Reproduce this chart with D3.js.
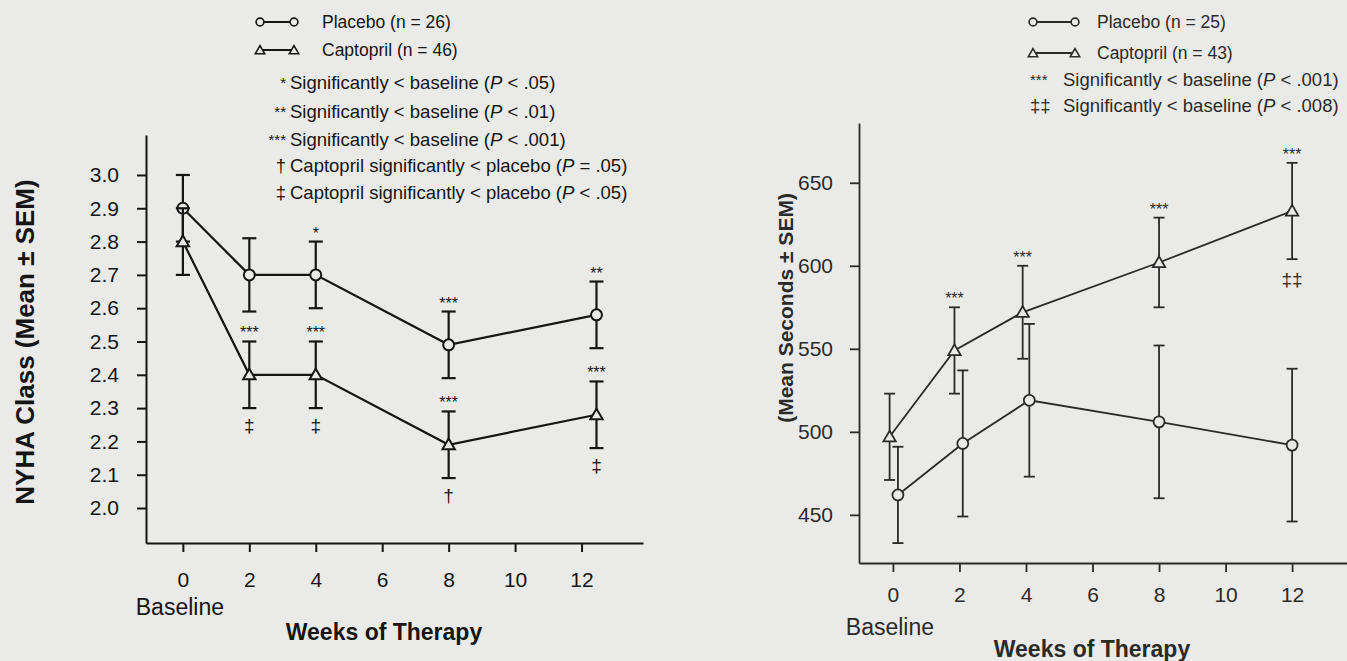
<!DOCTYPE html>
<html>
<head>
<meta charset="utf-8">
<script src="https://cdn.jsdelivr.net/npm/d3@7"></script>
<style>
  body { margin: 0; background: #eaeae8; }
  svg { display: block; font-family: "Liberation Sans", Arial, Helvetica, sans-serif; }
</style>
</head>
<body>
<svg id="chart" width="1347" height="661"></svg>
<script>
// ---- left panel: NYHA class ----
let nyhaWeeks = [0, 2, 4, 8, 12.45];          // week-12 points sit a bit right of the tick
let nyhaPlacebo = [2.9, 2.7, 2.7, 2.49, 2.58];
let nyhaPlaceboSem = [0.1, 0.11, 0.1, 0.1, 0.1];
let nyhaCaptopril = [2.8, 2.4, 2.4, 2.19, 2.28];
let nyhaCaptoprilSem = [0.1, 0.1, 0.1, 0.1, 0.1];
let nyhaPlaceboAbove = ["", "", "*", "***", "**"];
let nyhaCaptoprilAbove = ["", "***", "***", "***", "***"];
let nyhaCaptoprilBelow = ["", "\u2021", "\u2021", "\u2020", "\u2021"];
let nyhaTicks = [2.0, 2.1, 2.2, 2.3, 2.4, 2.5, 2.6, 2.7, 2.8, 2.9, 3.0];
let nyhaNotes = [
  ["*", "Significantly < baseline (", "P", " < .05)"],
  ["**", "Significantly < baseline (", "P", " < .01)"],
  ["***", "Significantly < baseline (", "P", " < .001)"],
  ["\u2020", "Captopril significantly < placebo (", "P", " = .05)"],
  ["\u2021", "Captopril significantly < placebo (", "P", " < .05)"]
];

// ---- right panel: exercise duration ----
let exPlaceboWeeks = [0.15, 2.1, 4.1, 8, 12];
let exPlacebo = [462, 493, 519, 506, 492];
let exPlaceboSem = [29, 44, 46, 46, 46];
let exCaptoprilWeeks = [-0.1, 1.85, 3.9, 8, 12];
let exCaptopril = [497, 549, 572, 602, 633];
let exCaptoprilSem = [26, 26, 28, 27, 29];
let exCaptoprilAbove = ["", "***", "***", "***", "***"];
let exCaptoprilBelow = ["", "", "", "", "\u2021\u2021"];
let exTicks = [450, 500, 550, 600, 650];
let exNotes = [
  ["***", "Significantly < baseline (", "P", " < .001)"],
  ["\u2021\u2021", "Significantly < baseline (", "P", " < .008)"]
];

let weekTicks = [0, 2, 4, 6, 8, 10, 12];
let bg = "#eaeae8";

let svg = d3.select("#chart");

function drawPanel(p) {
  let g = svg.append("g").attr("class", p.name);
  let ink = p.ink;

  let x = d3.scaleLinear().domain(p.xDomain).range(p.xRange);
  let y = d3.scaleLinear().domain(p.yDomain).range(p.yRange);

  // x axis
  let xAxis = d3.axisBottom(x)
    .tickValues(weekTicks)
    .tickSize(9)
    .tickSizeOuter(0)
    .tickPadding(p.xPad);
  let gx = g.append("g")
    .attr("transform", "translate(0," + p.yRange[0] + ")")
    .call(xAxis);
  gx.select(".domain").attr("stroke", ink).attr("stroke-width", p.axisW);
  gx.selectAll(".tick line").attr("stroke", ink).attr("stroke-width", p.axisW);
  gx.selectAll("text").attr("fill", ink).attr("font-size", 21).attr("font-family", null);

  // y axis
  let yAxis = d3.axisLeft(y)
    .tickValues(p.yTicks)
    .tickFormat(p.yFormat)
    .tickSize(9)
    .tickSizeOuter(0)
    .tickPadding(p.yPad);
  let gy = g.append("g")
    .attr("transform", "translate(" + p.xRange[0] + ",0)")
    .call(yAxis);
  gy.select(".domain").attr("stroke", ink).attr("stroke-width", p.axisW);
  gy.selectAll(".tick line").attr("stroke", ink).attr("stroke-width", p.axisW);
  gy.selectAll("text").attr("fill", ink).attr("font-size", 21).attr("font-family", null);

  // axis titles
  g.append("text")
    .attr("x", x(0) - 3).attr("y", p.baselineY)
    .attr("text-anchor", "middle").attr("font-size", 23).attr("fill", ink)
    .text("Baseline");
  g.append("text")
    .attr("x", p.xTitle[0]).attr("y", p.xTitle[1])
    .attr("text-anchor", "middle").attr("font-size", 23).attr("font-weight", "bold").attr("fill", ink)
    .text("Weeks of Therapy");
  g.append("text")
    .attr("transform", "translate(" + p.yTitle[0] + "," + p.yTitle[1] + ") rotate(-90)")
    .attr("text-anchor", "middle").attr("dominant-baseline", "central")
    .attr("font-size", p.yTitleSize).attr("font-weight", "bold").attr("fill", ink)
    .text(p.yTitleText);

  // series
  p.series.forEach(function (s) {
    let line = d3.line()
      .x(function (d, i) { return x(s.weeks[i]); })
      .y(function (d) { return y(d); });

    // error bars
    let eb = g.append("g").attr("stroke", ink).attr("stroke-width", p.lineW);
    s.values.forEach(function (v, i) {
      let cx = x(s.weeks[i]);
      let top = y(v + s.sem[i]);
      let bot = y(v - s.sem[i]);
      eb.append("line").attr("x1", cx).attr("x2", cx).attr("y1", top).attr("y2", bot);
      eb.append("line").attr("x1", cx - p.cap).attr("x2", cx + p.cap).attr("y1", top).attr("y2", top);
      eb.append("line").attr("x1", cx - p.cap).attr("x2", cx + p.cap).attr("y1", bot).attr("y2", bot);
    });

    g.append("path")
      .datum(s.values)
      .attr("d", line)
      .attr("fill", "none")
      .attr("stroke", ink)
      .attr("stroke-width", p.lineW);

    // markers
    let sym = s.shape === "circle" ? d3.symbolCircle : d3.symbolTriangle;
    g.selectAll(".m-" + s.key)
      .data(s.values)
      .enter().append("path")
      .attr("class", "m-" + s.key)
      .attr("d", d3.symbol().type(sym).size(s.shape === "circle" ? 95 : 66))
      .attr("transform", function (d, i) {
        let dy = s.shape === "circle" ? 0 : 1;
        return "translate(" + x(s.weeks[i]) + "," + (y(d) + dy) + ")";
      })
      .attr("fill", bg)
      .attr("stroke", ink)
      .attr("stroke-width", p.markW);

    // significance marks
    g.selectAll(".a-" + s.key)
      .data(s.above || [])
      .enter().append("text")
      .attr("x", function (d, i) { return x(s.weeks[i]); })
      .attr("y", function (d, i) { return y(s.values[i] + s.sem[i]) - 12 + 9; })
      .attr("text-anchor", "middle").attr("font-size", 16).attr("fill", ink)
      .text(function (d) { return d; });
    g.selectAll(".b-" + s.key)
      .data(s.below || [])
      .enter().append("text")
      .attr("x", function (d, i) { return x(s.weeks[i]); })
      .attr("y", function (d, i) { return y(s.values[i] - s.sem[i]) + p.belowOff + 6; })
      .attr("text-anchor", "middle").attr("font-size", 19).attr("fill", ink)
      .text(function (d) { return d; });
  });

  // legend
  let L = p.legend;
  let lg = g.append("g").attr("fill", ink);
  L.series.forEach(function (s, i) {
    let cy = L.rows[i];
    lg.append("line")
      .attr("x1", L.sym[0]).attr("x2", L.sym[1]).attr("y1", cy).attr("y2", cy)
      .attr("stroke", ink).attr("stroke-width", 1.8);
    [L.sym[0], L.sym[1]].forEach(function (sx) {
      lg.append("path")
        .attr("d", d3.symbol().type(s.shape === "circle" ? d3.symbolCircle : d3.symbolTriangle).size(s.shape === "circle" ? 48 : 38))
        .attr("transform", "translate(" + sx + "," + (cy + (s.shape === "circle" ? 0 : 1)) + ")")
        .attr("fill", bg).attr("stroke", ink).attr("stroke-width", 1.6);
    });
    lg.append("text")
      .attr("x", L.textX).attr("y", cy + 6)
      .attr("font-size", 17.5)
      .text(s.label);
  });
  L.notes.forEach(function (n, i) {
    let cy = L.noteRows[i];
    let isStar = n[0].indexOf("*") >= 0;
    lg.append("text")
      .attr("x", L.markX).attr("y", cy + (isStar ? 5 : 6))
      .attr("text-anchor", L.markAnchor)
      .attr("font-size", isStar ? 15 : 18.5)
      .text(n[0]);
    let t = lg.append("text")
      .attr("x", L.noteX).attr("y", cy + 6)
      .attr("font-size", L.noteSize);
    t.append("tspan").text(n[1]);
    t.append("tspan").attr("font-style", "italic").text(n[2]);
    t.append("tspan").text(n[3]);
  });
}

drawPanel({
  name: "nyha",
  ink: "#151515",
  axisW: 2, lineW: 2.2, markW: 2, cap: 7,
  xDomain: [-1.11, 13.85], xRange: [146, 643],
  yDomain: [1.895, 3.12], yRange: [543, 135],
  yTicks: nyhaTicks, yFormat: d3.format(".1f"),
  xPad: 20, yPad: 18,
  baselineY: 615,
  xTitle: [384, 640],
  yTitle: [25, 342], yTitleSize: 26, yTitleText: "NYHA Class (Mean \u00b1 SEM)",
  belowOff: 18,
  series: [
    { key: "pla", shape: "circle", weeks: nyhaWeeks, values: nyhaPlacebo, sem: nyhaPlaceboSem, above: nyhaPlaceboAbove },
    { key: "cap", shape: "triangle", weeks: nyhaWeeks, values: nyhaCaptopril, sem: nyhaCaptoprilSem, above: nyhaCaptoprilAbove, below: nyhaCaptoprilBelow }
  ],
  legend: {
    series: [
      { shape: "circle", label: "Placebo (n = 26)" },
      { shape: "triangle", label: "Captopril (n = 46)" }
    ],
    rows: [22, 50], sym: [260, 294], textX: 322,
    notes: nyhaNotes, noteRows: [83, 112, 140, 166, 193],
    markX: 286, markAnchor: "end", noteX: 290, noteSize: 18.5
  }
});

drawPanel({
  name: "exercise",
  ink: "#2a2a2a",
  axisW: 1.8, lineW: 1.8, markW: 1.8, cap: 5.5,
  xDomain: [-1.02, 13.65], xRange: [859, 1347],
  yDomain: [421, 686], yRange: [563, 123],
  yTicks: exTicks, yFormat: d3.format("d"),
  xPad: 15, yPad: 17,
  baselineY: 635,
  xTitle: [1092, 657],
  yTitle: [785, 308], yTitleSize: 21, yTitleText: "(Mean Seconds \u00b1 SEM)",
  belowOff: 21,
  series: [
    { key: "pla", shape: "circle", weeks: exPlaceboWeeks, values: exPlacebo, sem: exPlaceboSem },
    { key: "cap", shape: "triangle", weeks: exCaptoprilWeeks, values: exCaptopril, sem: exCaptoprilSem, above: exCaptoprilAbove, below: exCaptoprilBelow }
  ],
  legend: {
    series: [
      { shape: "circle", label: "Placebo (n = 25)" },
      { shape: "triangle", label: "Captopril (n = 43)" }
    ],
    rows: [22, 53], sym: [1033, 1075], textX: 1097,
    notes: exNotes, noteRows: [80, 106],
    markX: 1030, markAnchor: "start", noteX: 1063, noteSize: 18.5
  }
});
</script>
</body>
</html>
